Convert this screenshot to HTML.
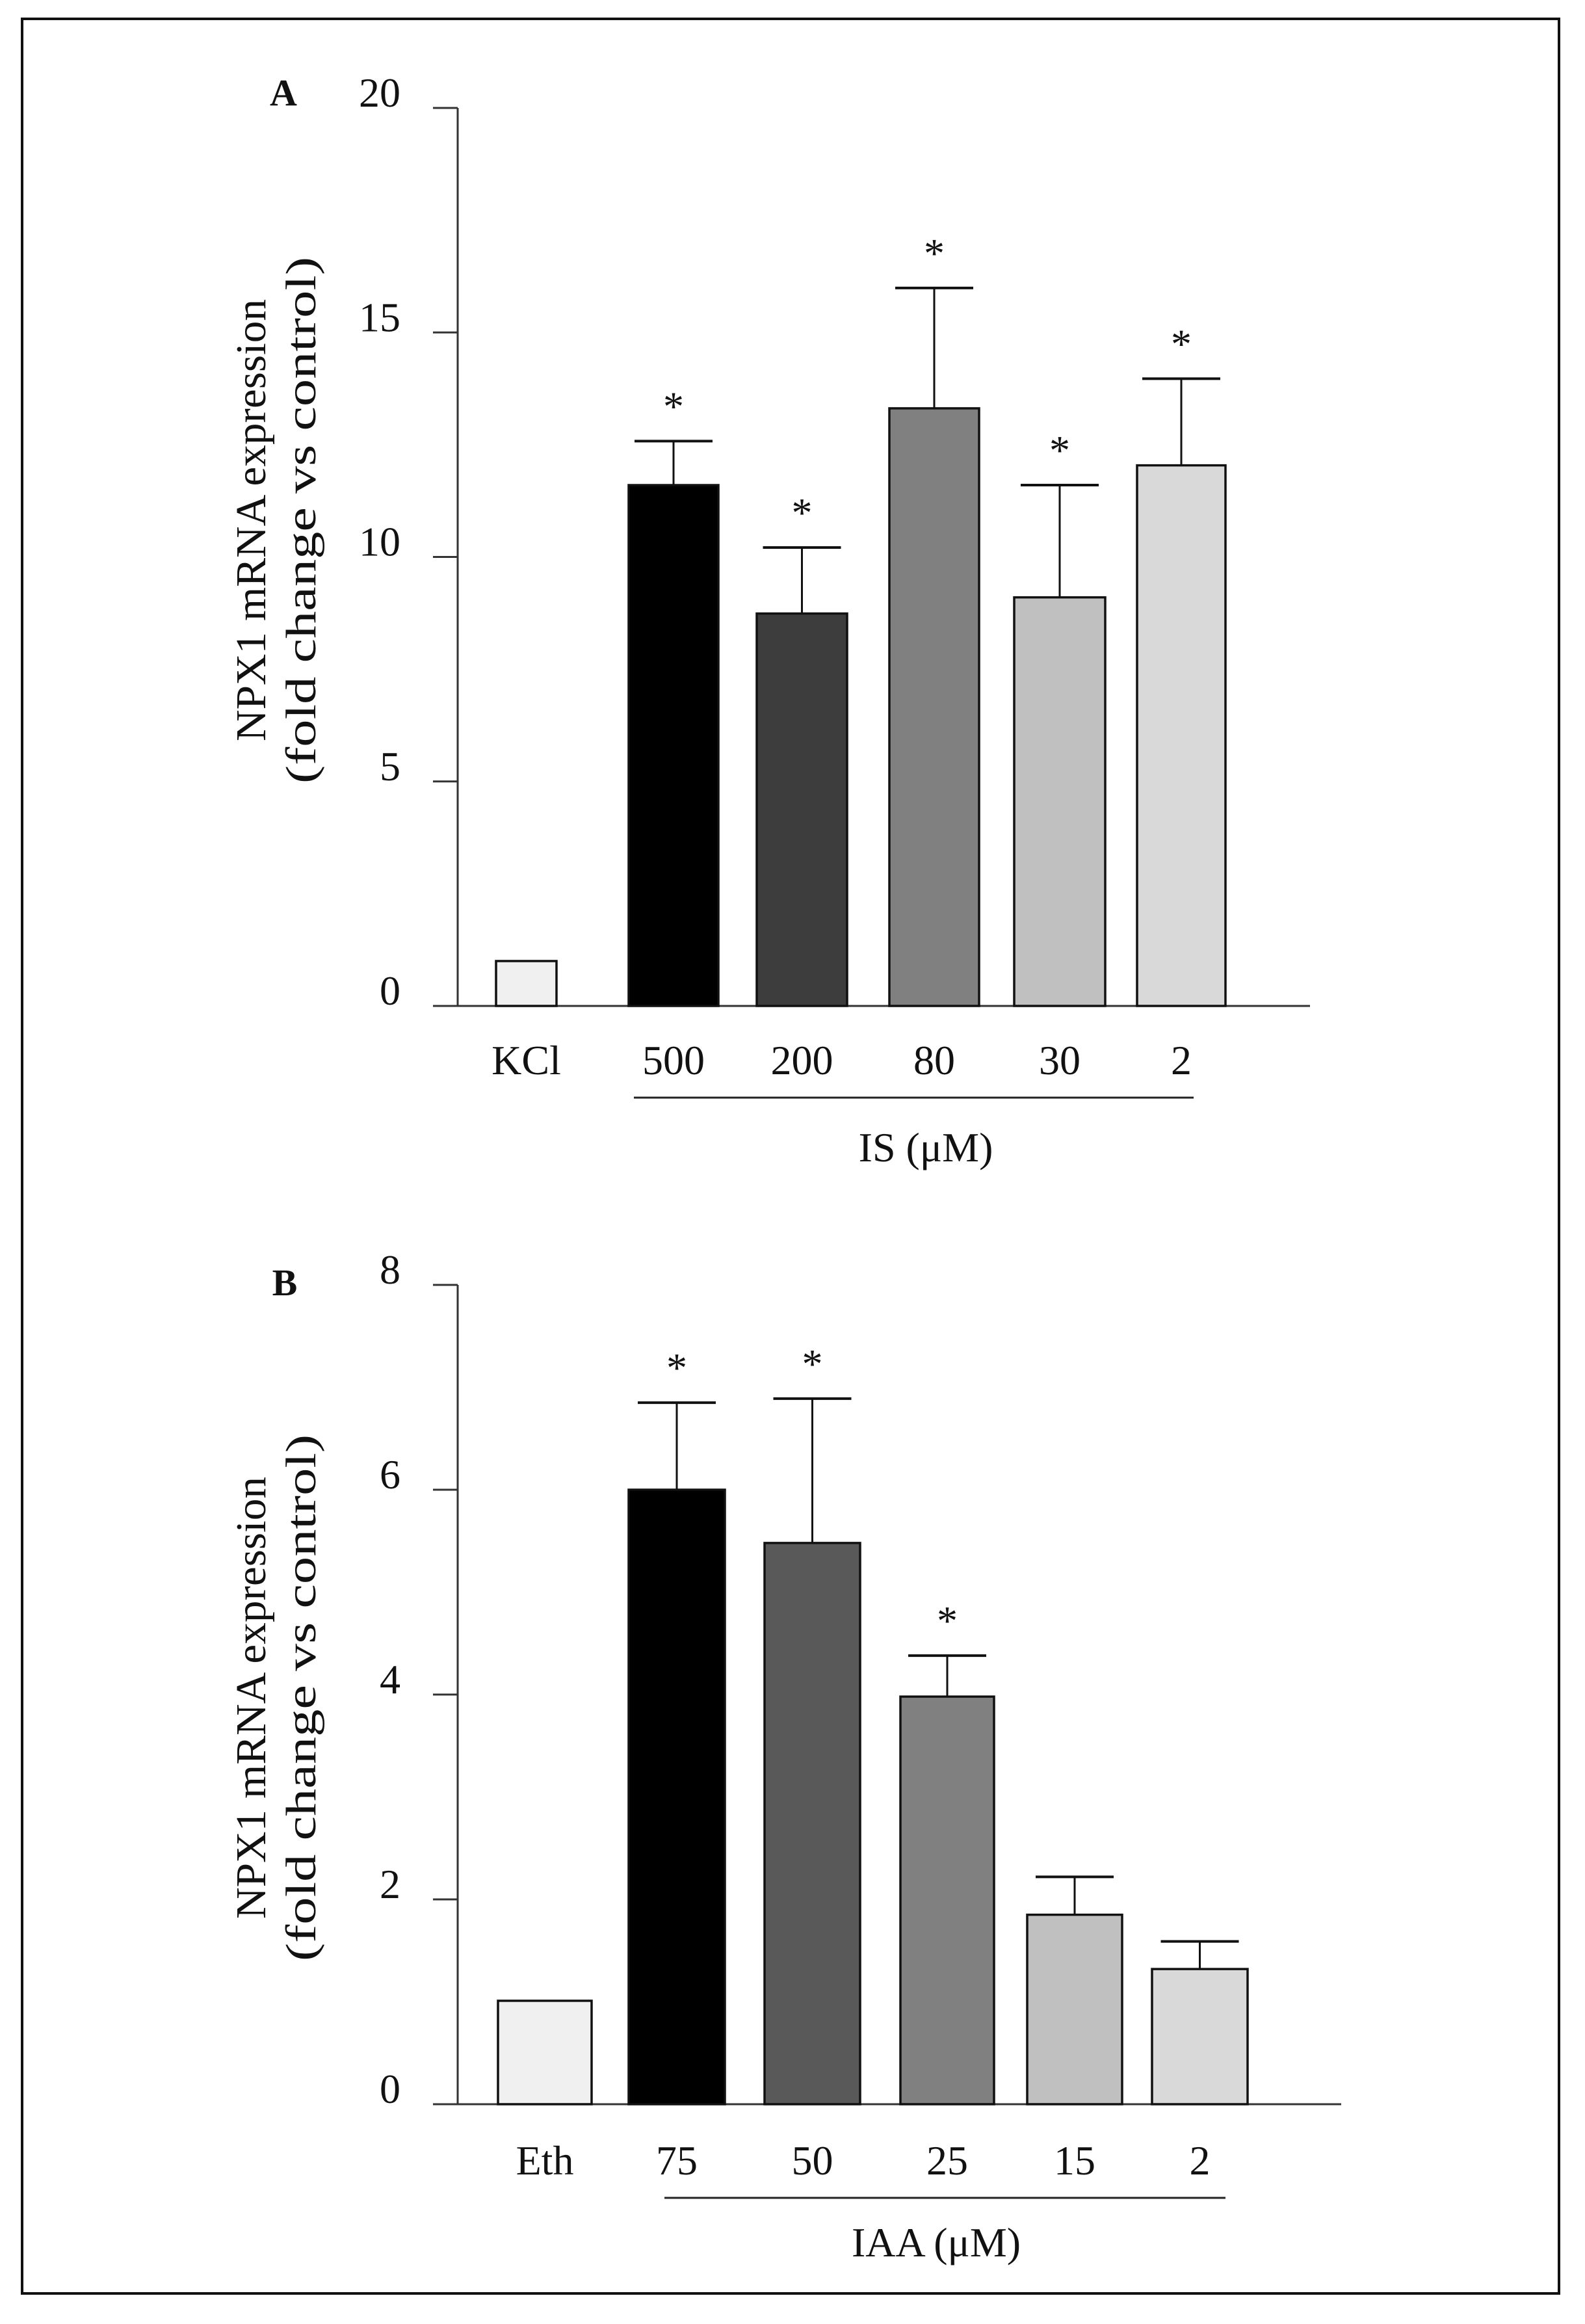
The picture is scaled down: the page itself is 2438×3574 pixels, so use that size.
<!DOCTYPE html>
<html><head><meta charset="utf-8"><style>
html,body{margin:0;padding:0;background:#fff}
svg{display:block}
text{font-family:"Liberation Serif",serif;fill:#111}
</style></head><body>
<svg id="fig" width="2438" height="3574" viewBox="0 0 2438 3574" xmlns="http://www.w3.org/2000/svg">
<rect x="34" y="29" width="2364" height="3498" fill="none" stroke="#111" stroke-width="4"/>
</svg>
<script>
const catsA = ["KCl","500","200","80","30","2"];
const valsA = [1.0, 11.6, 8.74, 13.31, 9.1, 12.04];
const errA = [null, 12.58, 10.21, 15.99, 11.6, 13.97];
const starA = [false, true, true, true, true, true];
const ticksA = [0, 5, 10, 15, 20];
const colorsA = ["#f0f0f0","#000000","#3d3d3d","#808080","#c0c0c0","#d9d9d9"];
const catsB = ["Eth","75","50","25","15","2"];
const valsB = [1.01, 6.0, 5.48, 3.98, 1.85, 1.32];
const errB = [null, 6.85, 6.89, 4.38, 2.22, 1.59];
const starB = [false, true, true, true, false, false];
const ticksB = [0, 2, 4, 6, 8];
const colorsB = ["#f0f0f0","#000000","#595959","#808080","#c0c0c0","#d9d9d9"];

const NS = "http://www.w3.org/2000/svg";
const svg = document.getElementById("fig");
function mk(tag, attrs, parent) {
  const e = document.createElementNS(NS, tag);
  for (const k in attrs) e.setAttribute(k, attrs[k]);
  (parent || svg).appendChild(e);
  return e;
}

function panel(p) {
  const g = mk("g", {});
  
  
  const y = v => p.y0 - (v - p.min) / (p.max - p.min) * (p.y0 - p.yTop);
  const ax = mk("line", {x1:p.ax, y1:y(p.max), x2:p.ax, y2:p.y0, stroke:"#333", "stroke-width":3}, g);
  
  
  const xa = mk("line", {x1:p.ax, y1:p.y0, x2:p.axEnd, y2:p.y0, stroke:"#333", "stroke-width":3}, g);
  
  
  p.ticks.forEach(t => {
    const tk = mk("line", {x1:p.ax - 38, y1:y(t), x2:p.ax, y2:y(t), stroke:"#333", "stroke-width":3}, g);
    
    
    const tl = mk("text", {x:p.ax - 88, y:y(t) - 2, "font-size":64, "text-anchor":"end"}, g);
    tl.textContent = t;
    
    
  });
  p.cats.forEach((c, i) => {
    const x0 = p.bx[i][0], x1 = p.bx[i][1], cx = (x0 + x1) / 2;
    if (p.err[i] !== null) {
      const el = mk("line", {x1:cx, y1:y(p.err[i]), x2:cx, y2:y(p.vals[i]), stroke:"#111", "stroke-width":3}, g);
      
      
      const cap = mk("line", {x1:cx - 60, y1:y(p.err[i]), x2:cx + 60, y2:y(p.err[i]), stroke:"#111", "stroke-width":4}, g);
      
      
    }
    const b = mk("rect", {x:x0, y:y(p.vals[i]), width:x1 - x0, height:p.y0 - y(p.vals[i]), fill:p.colors[i], stroke:"#111", "stroke-width":3.5}, g);
    
    
    if (p.star[i]) {
      const st = mk("text", {x:cx, y:y(p.err[i]) - 32, "font-size":64, "text-anchor":"middle"}, g);
      st.textContent = "*";
      
      
    }
    const lb = mk("text", {x:cx, y:p.labY, "font-size":64, "text-anchor":"middle"}, g);
    lb.textContent = c;
    
    
  });
  const gl = mk("line", {x1:p.grp[0], y1:p.grp[1], x2:p.grp[2], y2:p.grp[1], stroke:"#222", "stroke-width":3}, g);
  
  
  const gt = mk("text", {x:p.grpText[0], y:p.grpText[1], "font-size":64, "text-anchor":"middle"}, g);
  gt.textContent = p.grpLabel;
  
  
  const pl = mk("text", {x:p.letter[0], y:p.letter[1], "font-size":58, "font-weight":"bold", "text-anchor":"middle"}, g);
  pl.textContent = p.id === "panel-a" ? "A" : "B";
  
  
  const l1 = mk("text", {x:0, y:0, "font-size":66, "text-anchor":"middle", transform:`translate(408,${p.labC}) rotate(-90)`, textLength:680, lengthAdjust:"spacingAndGlyphs"}, g);
  l1.textContent = "NPX1 mRNA expression";
  
  
  const l2 = mk("text", {x:0, y:0, "font-size":66, "text-anchor":"middle", transform:`translate(485,${p.labC}) rotate(-90)`, textLength:810, lengthAdjust:"spacingAndGlyphs"}, g);
  l2.textContent = "(fold change vs control)";
  
  
}

panel({id:"panel-a", cats:catsA, vals:valsA, err:errA, star:starA, ticks:ticksA, colors:colorsA,
  min:0, max:20, y0:1547, yTop:166, ax:704, axEnd:2015,
  bx:[[763,856],[967,1105],[1164,1303],[1368,1506],[1560,1700],[1749,1885]],
  labY:1652, grp:[975,1688,1836], grpText:[1424,1786], grpLabel:"IS (\u03bcM)", letter:[436,162], labC:800});
panel({id:"panel-b", cats:catsB, vals:valsB, err:errB, star:starB, ticks:ticksB, colors:colorsB,
  min:0, max:8, y0:3236, yTop:1976, ax:704, axEnd:2063,
  bx:[[766,910],[967,1115],[1176,1323],[1385,1529],[1580,1726],[1772,1919]],
  labY:3344, grp:[1022,3380,1885], grpText:[1440,3470], grpLabel:"IAA (\u03bcM)", letter:[438,1992], labC:2611});
</script>
</body></html>
